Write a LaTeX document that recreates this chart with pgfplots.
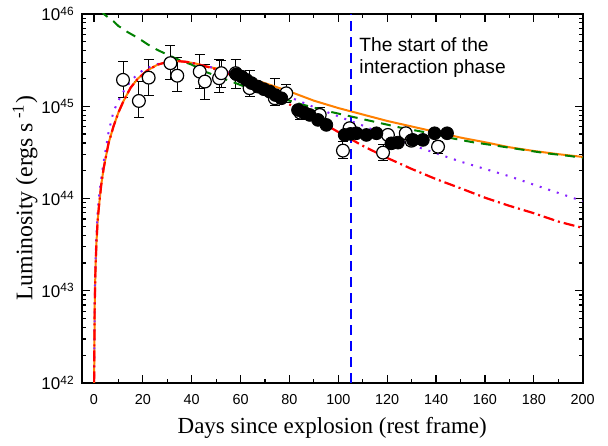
\documentclass[border=0pt]{standalone}
\usepackage{fontspec}
\setmainfont{Liberation Sans}
\newfontfamily\timesfont{Liberation Serif}
\usepackage{pgfplots}
\usepackage{pgfplotstable}
\pgfplotsset{compat=1.18}
\definecolor{myorange}{RGB}{255,128,0}
\definecolor{mygreen}{RGB}{0,128,0}
\definecolor{mypurple}{RGB}{136,34,255}
\definecolor{myred}{RGB}{255,0,0}
\definecolor{myblue}{RGB}{0,0,255}

\pgfplotstableread{
d L ep em
11.9 1.93e45 1.09e45 0.70e45
18.4 1.14e45 0.69e45 0.39e45
22.4 2.04e45 1.13e45 0.72e45
31.3 2.93e45 1.65e45 1.00e45
34.1 2.14e45 1.22e45 0.71e45
43.3 2.37e45 1.25e45 0.80e45
45.4 1.85e45 0.97e45 0.68e45
51.2 2.01e45 1.16e45 0.61e45
52.1 2.28e45 0.88e45 0.70e45
58.0 2.28e45 0.89e45 0.71e45
63.7 1.57e45 0.88e45 0.31e45
74.0 1.22e45 0.79e45 0.19e45
78.7 1.38e45 0.36e45 0.28e45
84.5 8.51e44 1.6e44 1.3e44
92.4 8.04e44 1.6e44 1.3e44
101.9 3.30e44 0.83e44 0.57e44
104.6 5.77e44 0.7e44 0.6e44
118.3 3.14e44 0.7e44 0.57e44
120.3 4.88e44 0.6e44 0.5e44
127.6 5.09e44 0.6e44 0.5e44
129.9 4.23e44 0.5e44 0.45e44
140.8 3.64e44 0.49e44 0.55e44
}\opendata

\pgfplotstableread{
d L
58.3 2.22e45
60.5 2.09e45
62.4 1.93e45
64.5 1.78e45
67.1 1.63e45
69.5 1.53e45
71.9 1.44e45
74.3 1.32e45
76.7 1.22e45
83.5 9.10e44
86.0 8.51e44
88.3 8.04e44
91.7 7.10e44
95.1 6.27e44
102.6 4.88e44
105.0 5.01e44
107.4 5.09e44
111.5 4.88e44
115.6 5.09e44
121.7 3.96e44
124.4 4.03e44
130.5 4.31e44
134.6 4.31e44
139.4 5.09e44
144.5 5.09e44
}\filleddata

\pgfplotstableread{
d L
0.02 6.0e41
0.3 6.31e42
0.6 1.585e43
1.0 3.16e43
1.5 5.62e43
2.0 7.94e43
3.0 1.41e44
4.0 2.14e44
6.0 3.98e44
8.0 6.03e44
10 8.51e44
12 1.122e45
15 1.585e45
18 1.995e45
22 2.455e45
26 2.818e45
30 3.02e45
34 3.09e45
38 3.02e45
42 2.884e45
46 2.692e45
50 2.57e45
55 2.344e45
60 2.138e45
70 1.778e45
80 1.445e45
90 1.148e45
100 9.55e44
110 8.13e44
120 6.92e44
130 6.03e44
140 5.25e44
150 4.57e44
160 4.07e44
170 3.59e44
180 3.27e44
190 3.02e44
200 2.82e44
}\orangedata

\pgfplotstableread{
d L
3 1.12e46
4 1.0e46
6 9.12e45
8 8.32e45
10 7.41e45
14 6.31e45
18 5.50e45
22 4.68e45
26 4.07e45
30 3.63e45
35 3.16e45
40 2.82e45
46 2.34e45
52 2.04e45
58 1.778e45
65 1.514e45
75 1.259e45
85 1.047e45
95 8.91e44
105 7.76e44
115 6.76e44
125 5.89e44
135 5.25e44
145 4.57e44
155 4.07e44
165 3.72e44
175 3.39e44
185 3.09e44
195 2.88e44
200 2.75e44
}\greendata

\pgfplotstableread{
d L
0.02 6.0e41
0.3 7.08e42
0.6 2.0e43
1.0 3.98e43
1.5 7.08e43
2.0 1.0e44
3.0 1.66e44
4.0 2.51e44
6.0 5.25e44
8.0 8.71e44
10 1.148e45
13 1.585e45
16 1.995e45
20 2.455e45
25 2.818e45
30 3.02e45
35 3.09e45
40 2.95e45
50 2.57e45
60 2.09e45
70 1.622e45
80 1.259e45
90 9.77e44
100 7.76e44
110 6.17e44
120 4.79e44
130 3.80e44
140 3.09e44
150 2.51e44
160 2.09e44
170 1.74e44
180 1.41e44
190 1.148e44
200 9.33e43
}\purpledata

\pgfplotstableread{
d L
0.02 6.0e41
0.3 6.31e42
0.6 1.585e43
1.0 3.16e43
1.5 5.62e43
2.0 7.94e43
3.0 1.41e44
4.0 2.14e44
6.0 3.98e44
8.0 6.03e44
10 8.51e44
12 1.122e45
15 1.585e45
18 1.995e45
22 2.455e45
26 2.818e45
30 3.02e45
34 3.09e45
38 3.02e45
42 2.884e45
46 2.692e45
50 2.512e45
55 2.239e45
60 1.95e45
70 1.445e45
80 1.047e45
90 7.41e44
100 5.25e44
110 3.72e44
120 2.75e44
130 2.09e44
140 1.62e44
150 1.29e44
160 1.02e44
170 8.32e43
180 6.92e43
190 5.62e43
200 4.79e43
}\reddata

\begin{document}
\begin{tikzpicture}
\begin{axis}[
  scale only axis, width=250.5pt, height=184.5pt,
  xmin=-5, xmax=200, ymode=log, ymin=1e42, ymax=1e46,
  xtick={0,20,...,200}, minor xtick={10,30,...,190},
  ytick={1e42,1e43,1e44,1e45,1e46},
  yticklabels={10\textsuperscript{42},10\textsuperscript{43},10\textsuperscript{44},10\textsuperscript{45},10\textsuperscript{46}},
  minor ytick={2e42,3e42,4e42,5e42,6e42,7e42,8e42,9e42,2e43,3e43,4e43,5e43,6e43,7e43,8e43,9e43,2e44,3e44,4e44,5e44,6e44,7e44,8e44,9e44,2e45,3e45,4e45,5e45,6e45,7e45,8e45,9e45},
  tick align=inside, major tick length=4pt, minor tick length=2pt,
  axis line style={line width=0.9pt},
  every tick/.style={black, line width=0.6pt},
  /pgf/number format/assume math mode=true,
  xticklabel style={font=\fontsize{7.2}{8.5}\selectfont, yshift=-2.3pt},
  yticklabel style={font=\fontsize{8.5}{10}\selectfont},
  xlabel={Days since explosion (rest frame)},
  ylabel={Luminosity (ergs s\,\textsuperscript{-1})},
  xlabel style={font=\timesfont\fontsize{11.5}{13}\selectfont, at={(axis description cs:0.5,-0.122)}, anchor=center},
  ylabel style={font=\timesfont\fontsize{11.9}{13}\selectfont, at={(axis description cs:-0.113,0.5)}, anchor=center},
  clip=true,
]
\addplot[only marks, mark=*, mark size=3.2pt, mark options={fill=white, draw=black, line width=0.6pt},
  error bars/.cd, y dir=both, y explicit,
  error bar style={black, line width=0.5pt},
  error mark options={black, mark size=2.5pt, line width=0.5pt, rotate=90}]
  table[x=d, y=L, y error plus=ep, y error minus=em] {\opendata};
\addplot[only marks, mark=*, mark size=3.2pt, mark options={fill=black, draw=black}] table[x=d, y=L] {\filleddata};
\addplot[myorange, line width=1pt] table[x=d, y=L] {\orangedata};
\addplot[mygreen, line width=1pt, dash pattern=on 5pt off 3.5pt] table[x=d, y=L] {\greendata};
\addplot[mypurple, line width=1pt, dash pattern=on 1pt off 3.5pt] table[x=d, y=L] {\purpledata};
\addplot[myred, line width=1.1pt, dash pattern=on 5.5pt off 2pt on 1pt off 2pt] table[x=d, y=L] {\reddata};
\addplot[myblue, line width=1pt, dash pattern=on 5pt off 3pt] coordinates {(105,1e42) (105,1e46)};
\node[anchor=north west, align=left, inner sep=0pt, font=\fontsize{9.6}{11.2}\selectfont] at (axis cs:108.5,5.6e45) {The start of the\\interaction phase};
\end{axis}
\path (current axis.south west) ++(-40.85pt,-28.5pt) rectangle ++(304pt,220pt);
\end{tikzpicture}
\end{document}
